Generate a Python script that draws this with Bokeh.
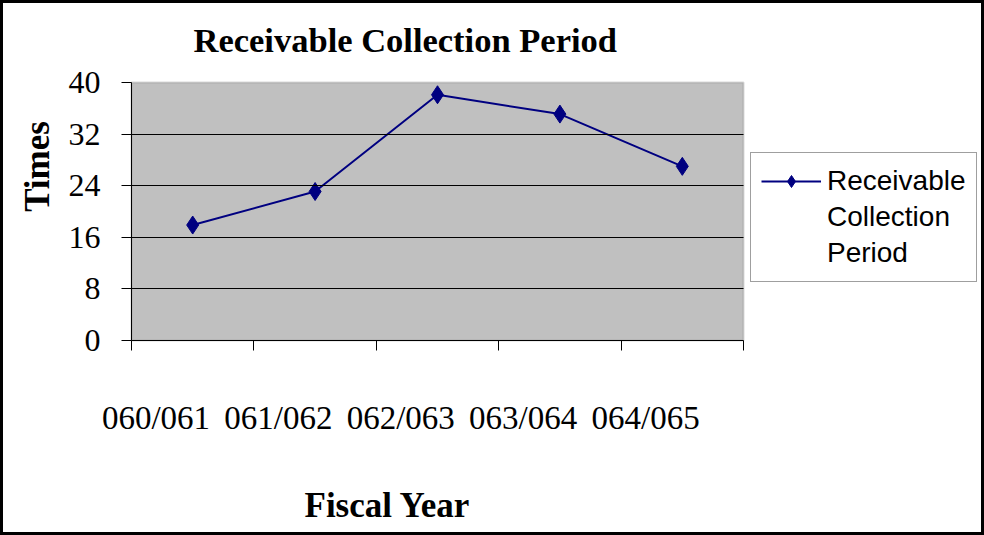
from bokeh.plotting import figure
from bokeh.models import (Range1d, FixedTicker, Legend, LegendItem,
                          BoxAnnotation, Label)
from bokeh.core.properties import value
from bokeh.embed import file_html
from bokeh.resources import INLINE

# ---- data ----
fiscal_years = ["060/061", "061/062", "062/063", "063/064", "064/065"]
collection_period = [17.9, 23.1, 38.1, 35.1, 27.0]
y_ticks = [0, 8, 16, 24, 32, 40]
series_lines = ["Receivable", "Collection", "Period"]
chart_title = "Receivable Collection Period"
x_title = "Fiscal Year"
y_title = "Times"

x_pos = list(range(1, len(fiscal_years) + 1))
label_pos = [x - 0.3 for x in x_pos]
boundaries = [x - 0.5 for x in x_pos] + [x_pos[-1] + 0.5]

SERIF = "Liberation Serif"
SANS = "Liberation Sans"
NAVY = "#000080"

# ---- layout (page pixels) ----
W, H = 978, 529                 # figure size (a 3px frame is drawn around it)
ORG = 3                         # canvas origin on the page
CW, CH = W + 6, H + 6           # drawing canvas size
PLOT_L, PLOT_T = 131, 82        # grey plot area, top-left corner
PLOT_W, PLOT_H = 612, 258       # grey plot area size
px_x = (boundaries[-1] - boundaries[0]) / PLOT_W
px_y = (y_ticks[-1] - y_ticks[0]) / PLOT_H
x_start = boundaries[0] - (PLOT_L - ORG) * px_x
x_end = boundaries[0] + (ORG + CW - PLOT_L) * px_x
y_end = y_ticks[-1] + (PLOT_T - ORG) * px_y
PLOT_B = PLOT_T + PLOT_H
y_start = y_ticks[0] - (ORG + CH - PLOT_B) * px_y


def X(page_x):
    return boundaries[0] + (page_x - PLOT_L) * px_x


def Y(page_y):
    return y_ticks[0] + (PLOT_B - page_y) * px_y


p = figure(width=W, height=H, output_backend="svg", toolbar_location=None,
           title=None,
           x_range=Range1d(x_start, x_end), y_range=Range1d(y_start, y_end),
           min_border=0,
           background_fill_color="white", border_fill_color="white")
p.styles = {"border": "3px solid black", "box-sizing": "content-box"}
p.outline_line_color = None

# grey plot area
p.add_layout(BoxAnnotation(left=boundaries[0], right=boundaries[-1],
                           bottom=y_ticks[0], top=y_ticks[-1],
                           fill_color="#C0C0C0", fill_alpha=1,
                           line_color="#808080", line_width=2,
                           level="underlay"))

# grid
p.xgrid.visible = False
g = p.ygrid[0]
if "cross_bounds" in g.properties():
    g.ticker = FixedTicker(ticks=y_ticks[1:-1])
    g.cross_bounds = (boundaries[0], boundaries[-1])
    g.grid_line_color = "black"
    g.grid_line_width = 1
    g.level = "glyph"
else:
    g.visible = False
    p.segment(x0=[boundaries[0]] * (len(y_ticks) - 2), x1=[boundaries[-1]] * (len(y_ticks) - 2),
              y0=y_ticks[1:-1], y1=y_ticks[1:-1], line_color="black", line_width=1)

# y axis (drawn at the left edge of the plot area)
ya = p.yaxis[0]
ya.fixed_location = boundaries[0]
ya.bounds = (y_ticks[0], y_ticks[-1])
ya.ticker = FixedTicker(ticks=y_ticks)
ya.axis_line_color = "black"
ya.major_tick_out = 10
ya.major_tick_in = 0
ya.minor_tick_line_color = None
ya.major_tick_line_color = "black"
ya.major_label_standoff = 21
ya.major_label_text_font = SERIF
ya.major_label_text_font_size = "32px"
ya.major_label_text_color = "black"

# x axis (drawn at y = 0)
xa = p.xaxis[0]
xa.fixed_location = y_ticks[0]
xa.bounds = (boundaries[0], boundaries[-1])
xa.ticker = FixedTicker(ticks=label_pos, minor_ticks=boundaries)
xa.major_label_overrides = {lp: fy for lp, fy in zip(label_pos, fiscal_years)}
xa.axis_line_color = "black"
xa.major_tick_line_color = None
xa.major_tick_out = 0
xa.major_tick_in = 0
xa.minor_tick_line_color = "black"
xa.minor_tick_out = 10
xa.minor_tick_in = 0
xa.major_label_standoff = 49
xa.major_label_text_font = SERIF
xa.major_label_text_font_size = "33px"
xa.major_label_text_color = "black"

# series
ln = p.line(x_pos, collection_period, line_color=NAVY, line_width=2)
sc = p.scatter(x_pos, collection_period, marker="diamond", size=18,
               fill_color=NAVY, line_color=NAVY)

items = [LegendItem(label=value(series_lines[0]), renderers=[ln, sc])]
items += [LegendItem(label=value(t), renderers=[]) for t in series_lines[1:]]
legend = Legend(items=items,
                location=(750 - ORG, ORG + CH - 282), orientation="vertical",
                label_text_font=SANS, label_text_font_size="28px",
                label_text_color="black", label_height=36,
                glyph_width=60, glyph_height=30, label_standoff=6,
                padding=10, spacing=0, margin=0,
                border_line_color="#404040", border_line_width=1.5,
                background_fill_color="white", background_fill_alpha=1)
p.add_layout(legend, "center")

# chart title and axis titles
p.add_layout(Label(x=X(193), y=Y(20), text=chart_title,
                   text_font=SERIF, text_font_size="34.5px",
                   text_font_style="bold", text_color="black",
                   text_align="left", text_baseline="top"))
p.add_layout(Label(x=X(37), y=Y(166), text=y_title, angle=90, angle_units="deg",
                   text_font=SERIF, text_font_size="35px",
                   text_font_style="bold", text_color="black",
                   text_align="center", text_baseline="middle"))
p.add_layout(Label(x=X(304), y=Y(485), text=x_title,
                   text_font=SERIF, text_font_size="35px",
                   text_font_style="bold", text_color="black",
                   text_align="left", text_baseline="top"))

open("out.html", "w").write(file_html(p, INLINE))
